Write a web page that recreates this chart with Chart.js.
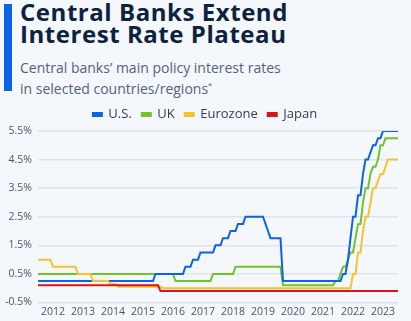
<!DOCTYPE html>
<html>
<head>
<meta charset="utf-8">
<script src="https://cdn.jsdelivr.net/npm/chart.js@4"></script>
<style>
  html, body { margin: 0; padding: 0; }
  body { width: 411px; height: 321px; overflow: hidden; background: #f4f7fb; position: relative; font-family: "Open Sans", sans-serif; }
  .bar { position: absolute; left: 4px; top: 4px; width: 8px; height: 87px; background: #0b63e5; }
  h1 { position: absolute; left: 20px; top: 0.5px; margin: 0; font: 700 24px/22.3px "Open Sans", sans-serif; color: #0d2240; letter-spacing: 0.55px; white-space: nowrap; }
  .sub { position: absolute; left: 20px; top: 60px; margin: 0; font: 400 14px/16.7px "Open Sans", sans-serif; color: #53627c; white-space: nowrap; }
  .sub sup { font-size: 7.5px; vertical-align: 6px; }
  #wrap { position: absolute; left: 0; top: 97.5px; width: 411px; height: 223.5px; }
</style>
</head>
<body>
<div class="bar"></div>
<h1>Central Banks Extend<br>Interest Rate Plateau</h1>
<p class="sub">Central banks’ main policy interest rates<br>in selected countries/regions<sup>*</sup></p>
<div id="wrap"><canvas id="rates"></canvas></div>
<script>
// Year labels on the x axis (centred on mid-year)
const YEARS = [2012, 2013, 2014, 2015, 2016, 2017, 2018, 2019, 2020, 2021, 2022, 2023];

// Policy rates in % (month, rate)
const US_DATES = ["2012-01", "2015-11", "2015-12", "2016-11", "2016-12", "2017-02", "2017-03", "2017-05", "2017-06",
  "2017-11", "2017-12", "2018-02", "2018-03", "2018-05", "2018-06", "2018-08", "2018-09", "2018-11", "2018-12",
  "2019-07", "2019-08", "2019-09", "2019-10", "2020-02", "2020-03", "2022-02", "2022-03", "2022-04", "2022-05",
  "2022-06", "2022-07", "2022-08", "2022-09", "2022-10", "2022-11", "2022-12", "2023-01", "2023-02", "2023-03",
  "2023-04", "2023-05", "2023-06", "2023-07", "2024-01"];
const US_RATES = [0.25, 0.25, 0.5, 0.5, 0.75, 0.75, 1.0, 1.0, 1.25,
  1.25, 1.5, 1.5, 1.75, 1.75, 2.0, 2.0, 2.25, 2.25, 2.5,
  2.5, 2.25, 2.0, 1.75, 1.75, 0.25, 0.25, 0.5, 0.5, 1.0,
  1.75, 2.5, 2.5, 3.25, 3.25, 4.0, 4.5, 4.5, 4.75, 5.0,
  5.0, 5.25, 5.25, 5.5, 5.5];

const UK_DATES = ["2012-01", "2016-07", "2016-08", "2017-10", "2017-11", "2018-07", "2018-08", "2020-02", "2020-03",
  "2021-11", "2021-12", "2022-01", "2022-02", "2022-03", "2022-04", "2022-05", "2022-06", "2022-07", "2022-08",
  "2022-09", "2022-10", "2022-11", "2022-12", "2023-01", "2023-02", "2023-03", "2023-04", "2023-05", "2023-06",
  "2023-07", "2023-08", "2024-01"];
const UK_RATES = [0.5, 0.5, 0.25, 0.25, 0.5, 0.5, 0.75, 0.75, 0.1,
  0.1, 0.25, 0.25, 0.5, 0.75, 0.75, 1.0, 1.25, 1.25, 1.75,
  2.25, 2.25, 3.0, 3.5, 3.5, 4.0, 4.25, 4.25, 4.5, 5.0,
  5.0, 5.25, 5.25];

const EZ_DATES = ["2012-01", "2012-06", "2012-07", "2013-04", "2013-05", "2013-10", "2013-11", "2014-05", "2014-06",
  "2014-08", "2014-09", "2016-02", "2016-03", "2022-06", "2022-07", "2022-08", "2022-09", "2022-10", "2022-11",
  "2022-12", "2023-01", "2023-02", "2023-03", "2023-04", "2023-05", "2023-06", "2023-07", "2023-08", "2023-09",
  "2024-01"];
const EZ_RATES = [1.0, 1.0, 0.75, 0.75, 0.5, 0.5, 0.25, 0.25, 0.15,
  0.15, 0.05, 0.05, 0.0, 0.0, 0.5, 0.5, 1.25, 1.25, 2.0,
  2.5, 2.5, 3.0, 3.5, 3.5, 3.75, 4.0, 4.0, 4.25, 4.5,
  4.5];

const JP_DATES = ["2012-01", "2016-01", "2016-02", "2024-01"];
const JP_RATES = [0.1, 0.1, -0.1, -0.1];

// "YYYY-MM" -> decimal year
function toYear(s) {
  const [y, m] = s.split("-").map(Number);
  return y + (m - 1) / 12;
}
function points(dates, rates) {
  return dates.map((d, i) => ({ x: toYear(d), y: rates[i] }));
}

const GRID = "#dfe3ea";
const ZERO = "#a4aab3";
const TICK = "#4b5568";

// nudge the legend so it centres a bit right of the plot, like the original
const legendShift = {
  id: "legendShift",
  afterLayout(chart) {
    chart.legend.left = 12;
  },
};

new Chart(document.getElementById("rates"), {
  type: "line",
  data: {
    datasets: [
      { label: "U.S.", data: points(US_DATES, US_RATES), borderColor: "#0b63e5", backgroundColor: "#0b63e5", order: 2 },
      { label: "UK", data: points(UK_DATES, UK_RATES), borderColor: "#74c12a", backgroundColor: "#74c12a", order: 3 },
      { label: "Eurozone", data: points(EZ_DATES, EZ_RATES), borderColor: "#f4c430", backgroundColor: "#f4c430", order: 1 },
      { label: "Japan", data: points(JP_DATES, JP_RATES), borderColor: "#d8141c", backgroundColor: "#d8141c", order: 0 },
    ],
  },
  options: {
    responsive: true,
    maintainAspectRatio: false,
    animation: false,
    layout: { padding: { left: 0, right: 13, top: 0, bottom: 0 } },
    elements: {
      line: { borderWidth: 2, tension: 0, borderCapStyle: "butt", borderJoinStyle: "miter" },
      point: { radius: 0 },
    },
    plugins: {
      tooltip: { enabled: false },
      legend: {
        position: "top",
        labels: {
          sort: (a, b) => a.datasetIndex - b.datasetIndex,
          boxWidth: 9,
          boxHeight: 3,
          padding: 10,
          color: "#333d4f",
          font: { family: "Open Sans", size: 13 },
        },
      },
    },
    scales: {
      x: {
        type: "linear",
        min: 2012,
        max: 2024,
        afterBuildTicks: (scale) => { scale.ticks = YEARS.map((y) => ({ value: y + 0.5 })); },
        afterFit: (scale) => { scale.height = 19; },
        grid: { display: false, drawTicks: false },
        border: { display: false },
        ticks: {
          color: TICK,
          font: { family: "Open Sans", size: 10.5 },
          padding: 3,
          maxRotation: 0,
          autoSkip: false,
          callback: (v) => String(Math.floor(v)),
        },
      },
      y: {
        min: -0.5,
        max: 5.5,
        afterFit: (scale) => { scale.width = 38; },
        border: { display: false },
        grid: {
          color: (c) => (c.tick && c.tick.value === 0 ? ZERO : GRID),
          lineWidth: (c) => (c.tick && c.tick.value === 0 ? 2.5 : 1.5),
          drawTicks: false,
        },
        ticks: {
          stepSize: 0.5,
          color: TICK,
          padding: 6,
          font: { family: "Open Sans", size: 10.5 },
          callback: (v) => (v === 0 || Math.abs(v % 1) === 0.5 ? v.toFixed(1) + "%" : ""),
        },
      },
    },
  },
  plugins: [legendShift],
});
</script>
</body>
</html>
